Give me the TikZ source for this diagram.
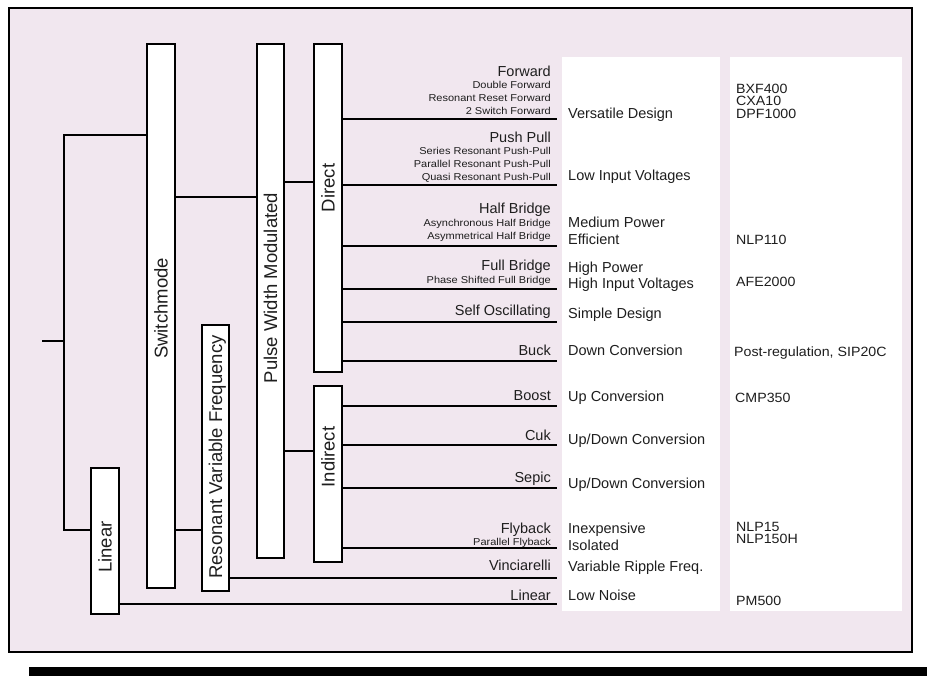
\documentclass[tikz,border=0pt]{standalone}
\usepackage{fontspec}
\setmainfont{Liberation Sans}
\newfontfamily\smallfam[FakeStretch=1.1]{Liberation Sans}
\newfontfamily\colfam[FakeStretch=1.06]{Liberation Sans}
\newcommand\vfont{\fontsize{18.5}{20}\selectfont}
\newcommand\mfont{\fontsize{14.5}{16}\selectfont}
\newcommand\cfont{\colfam\fontsize{13.4}{15}\selectfont}
\newcommand\sfont{\smallfam\fontsize{10}{12}\selectfont}
\definecolor{bgpink}{RGB}{241,231,239}
\definecolor{txt}{RGB}{30,30,30}
\begin{document}
\begin{tikzpicture}[x=1pt,y=-1pt,
  box/.style={draw, fill=white, line width=1.3pt, inner sep=0pt},
  conn/.style={line width=1.3pt},
  vlab/.style={rotate=90, anchor=base, inner sep=0pt, font=\vfont, text=txt},
  mlab/.style={anchor=base east, inner sep=0pt, font=\mfont, text=txt},
  slab/.style={anchor=base east, inner sep=0pt, font=\sfont, text=txt},
  clab/.style={anchor=base west, inner sep=0pt, font=\mfont, text=txt},
  dlab/.style={anchor=base west, inner sep=0pt, font=\cfont, text=txt},
  colbox/.style={fill=white, inner sep=0pt}]
\useasboundingbox (0,0) rectangle (927,676);
% frame and bar
\path[fill=bgpink, draw=black, line width=1.5pt] (9,8) rectangle (912,652);
\fill[black] (29,667) rectangle (927,676);
% white columns
\node[colbox, minimum width=158pt, minimum height=554pt] (col1) at (641,334) {};
\node[colbox, minimum width=172pt, minimum height=554pt] (col2) at (816,334) {};
% boxes
\node[box, minimum width=28pt, minimum height=544pt] (sw) at (161,316) {};
\node[box, minimum width=27pt, minimum height=514pt] (pwm) at (270.5,301) {};
\node[box, minimum width=28pt, minimum height=328pt] (dir) at (328,208) {};
\node[box, minimum width=28pt, minimum height=176pt] (ind) at (328,474) {};
\node[box, minimum width=27pt, minimum height=266pt] (rvf) at (215.5,458) {};
\node[box, minimum width=28pt, minimum height=146pt] (lin) at (105,541) {};
% vertical labels
\node[vlab] (swl) at (167.6,308.5) {Switchmode};
\node[vlab] (pwml) at (277.1,288) {Pulse Width Modulated};
\node[vlab] (dirl) at (334.6,188) {Direct};
\node[vlab] (indl) at (334.6,457) {Indirect};
\node[vlab] (rvfl) at (222.1,457) {Resonant Variable Frequency};
\node[vlab] (linl) at (111.6,547) {Linear};
% tree connectors
\coordinate (root) at (42,341);
\coordinate (j0) at (64,341);
\draw[conn] (root) -- (j0);
\draw[conn] (sw.west |- 0,135) -| (j0) |- (lin.west |- 0,530);
\draw[conn] (sw.east |- 0,197) -- (pwm.west |- 0,197);
\draw[conn] (sw.east |- 0,530) -- (rvf.west |- 0,530);
\draw[conn] (pwm.east |- 0,182) -- (dir.west |- 0,182);
\draw[conn] (pwm.east |- 0,451) -- (ind.west |- 0,451);
\coordinate (eV) at (557,578);
\coordinate (eL) at (557,604);
\draw[conn] (rvf.east |- eV) -- (eV);
\draw[conn] (lin.east |- eL) -- (eL);
\foreach \yy/\nn in {119/fwd,185/pp,246/hb,289/fb,322/so,361/bk}{
  \coordinate (e\nn) at (557,\yy);
  \draw[conn] (dir.east |- e\nn) -- (e\nn);
}
\foreach \yy/\nn in {406/bo,445/cu,488/se,548/fl}{
  \coordinate (e\nn) at (557,\yy);
  \draw[conn] (ind.east |- e\nn) -- (e\nn);
}
% branch labels
\node[mlab] (t1) at (551,76.7) {Forward};
\node[slab] (t2) at (551,88.5) {Double Forward};
\node[slab] (t3) at (551,101.7) {Resonant Reset Forward};
\node[slab] (t4) at (551,115) {2 Switch Forward};
\node[mlab] (t5) at (551,142.3) {Push Pull};
\node[slab] (t6) at (551,155) {Series Resonant Push-Pull};
\node[slab] (t7) at (551,168) {Parallel Resonant Push-Pull};
\node[slab] (t8) at (551,181) {Quasi Resonant Push-Pull};
\node[mlab] (t9) at (551,213.5) {Half Bridge};
\node[slab] (t10) at (551,227) {Asynchronous Half Bridge};
\node[slab] (t11) at (551,240) {Asymmetrical Half Bridge};
\node[mlab] (t12) at (551,271) {Full Bridge};
\node[slab] (t13) at (551,283.3) {Phase Shifted Full Bridge};
\node[mlab] (t14) at (551,316) {Self Oscillating};
\node[mlab] (t15) at (551,355.7) {Buck};
\node[mlab] (t16) at (551,401) {Boost};
\node[mlab] (t17) at (551,440) {Cuk};
\node[mlab] (t18) at (551,482.7) {Sepic};
\node[mlab] (t19) at (551,533) {Flyback};
\node[slab] (t20) at (551,545.3) {Parallel Flyback};
\node[mlab] (t21) at (551,570.7) {Vinciarelli};
\node[mlab] (t22) at (551,600) {Linear};
% column 1
\node[clab] (c1) at (568,119) {Versatile Design};
\node[clab] (c2) at (568,181) {Low Input Voltages};
\node[clab] (c3) at (568,228) {Medium Power};
\node[clab] (c4) at (568,245) {Efficient};
\node[clab] (c5) at (568,272.5) {High Power};
\node[clab] (c6) at (568,288.5) {High Input Voltages};
\node[clab] (c7) at (568,319) {Simple Design};
\node[clab] (c8) at (568,356) {Down Conversion};
\node[clab] (c9) at (568,402) {Up Conversion};
\node[clab] (c10) at (568,444.5) {Up/Down Conversion};
\node[clab] (c11) at (568,488.5) {Up/Down Conversion};
\node[clab] (c12) at (568,533) {Inexpensive};
\node[clab] (c13) at (568,550) {Isolated};
\node[clab] (c14) at (568,571) {Variable Ripple Freq.};
\node[clab] (c15) at (568,600) {Low Noise};
% column 2
\node[dlab] (d1) at (736,94) {BXF400};
\node[dlab] (d2) at (736,105.9) {CXA10};
\node[dlab] (d3) at (736,119) {DPF1000};
\node[dlab] (d4) at (736,245) {NLP110};
\node[dlab] (d5) at (736,286.7) {AFE2000};
\node[dlab] (d6) at (734,357) {Post-regulation, SIP20C};
\node[dlab] (d7) at (735,402.3) {CMP350};
\node[dlab] (d8) at (736,531.5) {NLP15};
\node[dlab] (d9) at (736,543.5) {NLP150H};
\node[dlab] (d10) at (736,605) {PM500};
\end{tikzpicture}
\end{document}
